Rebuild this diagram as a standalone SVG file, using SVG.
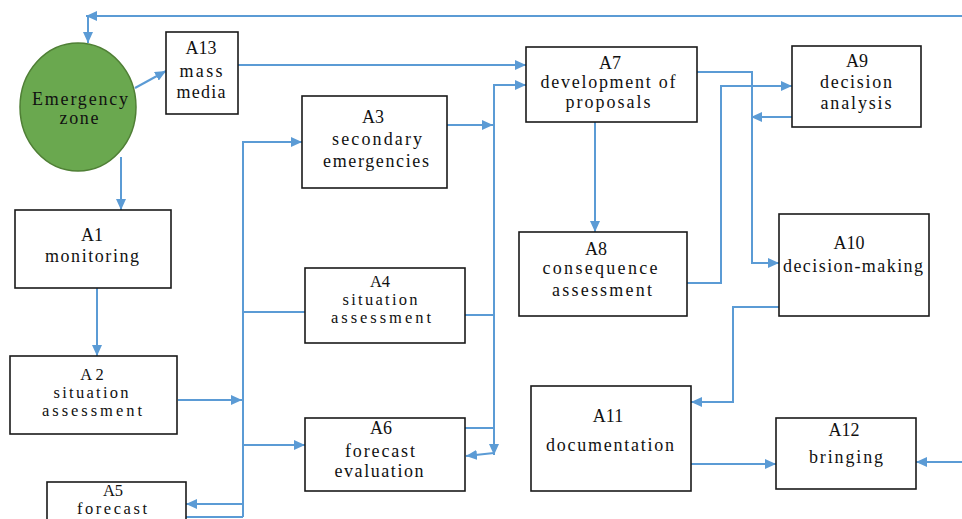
<svg xmlns="http://www.w3.org/2000/svg" width="962" height="519" viewBox="0 0 962 519">
<style>
.box{fill:#fff;stroke:#1a1a1a;stroke-width:1.6}
.t{font-family:"Liberation Serif","Times New Roman",serif;font-size:18px;fill:#111;text-anchor:middle}
.s{font-size:16.5px}
.c{fill:none;stroke:#5b9bd5;stroke-width:2}
.ca{fill:none;stroke:#5b9bd5;stroke-width:2;marker-end:url(#ah)}
</style>
<defs>
<marker id="ah" markerUnits="userSpaceOnUse" markerWidth="12" markerHeight="10" refX="11" refY="5" orient="auto">
<path d="M0,0 L11,5 L0,10 z" fill="#5b9bd5"/>
</marker>
</defs>
<rect width="962" height="519" fill="#fff"/>
<g id="connectors">
<path class="ca" d="M962,16 H86"/>
<path class="ca" d="M88,17 V43"/>
<path class="ca" d="M135,88 L166,71"/>
<path class="ca" d="M121,157 V210"/>
<path class="ca" d="M97,288 V356"/>
<path class="ca" d="M238,65 H526"/>
<path class="ca" d="M178,400 H242"/>
<path class="ca" d="M243,517 V142 H302"/>
<path class="ca" d="M243,445 H305"/>
<path class="ca" d="M243,504 H186"/>
<path class="c" d="M186,517 H243"/>
<path class="c" d="M243,312 H305"/>
<path class="ca" d="M447,125 H493"/>
<path class="ca" d="M494,428 V85 H526"/>
<path class="ca" d="M494,428 V455"/>
<path class="c" d="M465,315 H494"/>
<path class="c" d="M465,428 H494"/>
<path class="ca" d="M494,453 L466,456"/>
<path class="ca" d="M595,122 V232"/>
<path class="ca" d="M687,283 H721 V86 H792"/>
<path class="ca" d="M697,72 H752 V263 H779"/>
<path class="ca" d="M792,117 H751"/>
<path class="ca" d="M779,307 H733 V402 H691"/>
<path class="ca" d="M691,464 H776"/>
<path class="ca" d="M962,462 H916"/>
</g>
<g id="ez">
<ellipse cx="78" cy="107" rx="58" ry="64" fill="#6aa84f" stroke="#4f7f35" stroke-width="1.5"/>
<text class="t" x="80" y="105" textLength="96" lengthAdjust="spacing">Emergency</text>
<text class="t" x="79" y="124" textLength="39" lengthAdjust="spacing">zone</text>
</g>
<g id="A13">
<rect class="box" x="166" y="32" width="72" height="82"/>
<text class="t" x="201" y="54">A13</text>
<text class="t" x="201" y="77" textLength="43" lengthAdjust="spacing">mass</text>
<text class="t" x="201" y="98" textLength="49" lengthAdjust="spacing">media</text>
</g>
<g id="A3">
<rect class="box" x="302" y="96" width="145" height="92"/>
<text class="t" x="373" y="123">A3</text>
<text class="t" x="377" y="145" textLength="90" lengthAdjust="spacing">secondary</text>
<text class="t" x="376" y="167" textLength="106" lengthAdjust="spacing">emergencies</text>
</g>
<g id="A7">
<rect class="box" x="526" y="47" width="171" height="75"/>
<text class="t" x="610" y="69">A7</text>
<text class="t" x="608" y="88" textLength="135" lengthAdjust="spacing">development of</text>
<text class="t" x="608" y="108" textLength="85" lengthAdjust="spacing">proposals</text>
</g>
<g id="A9">
<rect class="box" x="792" y="46" width="129" height="81"/>
<text class="t" x="857" y="67">A9</text>
<text class="t" x="856" y="88" textLength="72" lengthAdjust="spacing">decision</text>
<text class="t" x="856" y="109" textLength="71" lengthAdjust="spacing">analysis</text>
</g>
<g id="A1">
<rect class="box" x="15" y="210" width="156" height="78"/>
<text class="t" x="92" y="241">A1</text>
<text class="t" x="92" y="262" textLength="94" lengthAdjust="spacing">monitoring</text>
</g>
<g id="A2">
<rect class="box" x="10" y="356" width="167" height="78"/>
<text class="t s" x="92" y="380">A 2</text>
<text class="t s" x="91" y="398" textLength="75" lengthAdjust="spacing">situation</text>
<text class="t s" x="92" y="416" textLength="100" lengthAdjust="spacing">assessment</text>
</g>
<g id="A4">
<rect class="box" x="305" y="268" width="160" height="75"/>
<text class="t s" x="380" y="287">A4</text>
<text class="t s" x="380" y="305" textLength="75" lengthAdjust="spacing">situation</text>
<text class="t s" x="381" y="323" textLength="100" lengthAdjust="spacing">assessment</text>
</g>
<g id="A6">
<rect class="box" x="305" y="418" width="160" height="73"/>
<text class="t" x="381" y="434">A6</text>
<text class="t" x="380" y="457" textLength="70" lengthAdjust="spacing">forecast</text>
<text class="t" x="379" y="477" textLength="89" lengthAdjust="spacing">evaluation</text>
</g>
<g id="A5">
<rect class="box" x="47" y="482" width="139" height="45"/>
<text class="t s" x="113" y="496">A5</text>
<text class="t s" x="112" y="514" textLength="70" lengthAdjust="spacing">forecast</text>
</g>
<g id="A8">
<rect class="box" x="519" y="232" width="168" height="84"/>
<text class="t" x="596" y="255">A8</text>
<text class="t" x="600" y="274" textLength="115" lengthAdjust="spacing">consequence</text>
<text class="t" x="602" y="296" textLength="100" lengthAdjust="spacing">assessment</text>
</g>
<g id="A10">
<rect class="box" x="779" y="214" width="150" height="102"/>
<text class="t" x="849" y="249">A10</text>
<text class="t" x="853" y="272" textLength="140" lengthAdjust="spacing">decision-making</text>
</g>
<g id="A11">
<rect class="box" x="531" y="386" width="160" height="105"/>
<text class="t" x="608" y="422">A11</text>
<text class="t" x="610" y="451" textLength="128" lengthAdjust="spacing">documentation</text>
</g>
<g id="A12">
<rect class="box" x="776" y="418" width="140" height="71"/>
<text class="t" x="844" y="436">A12</text>
<text class="t" x="846" y="463" textLength="74" lengthAdjust="spacing">bringing</text>
</g>
</svg>
